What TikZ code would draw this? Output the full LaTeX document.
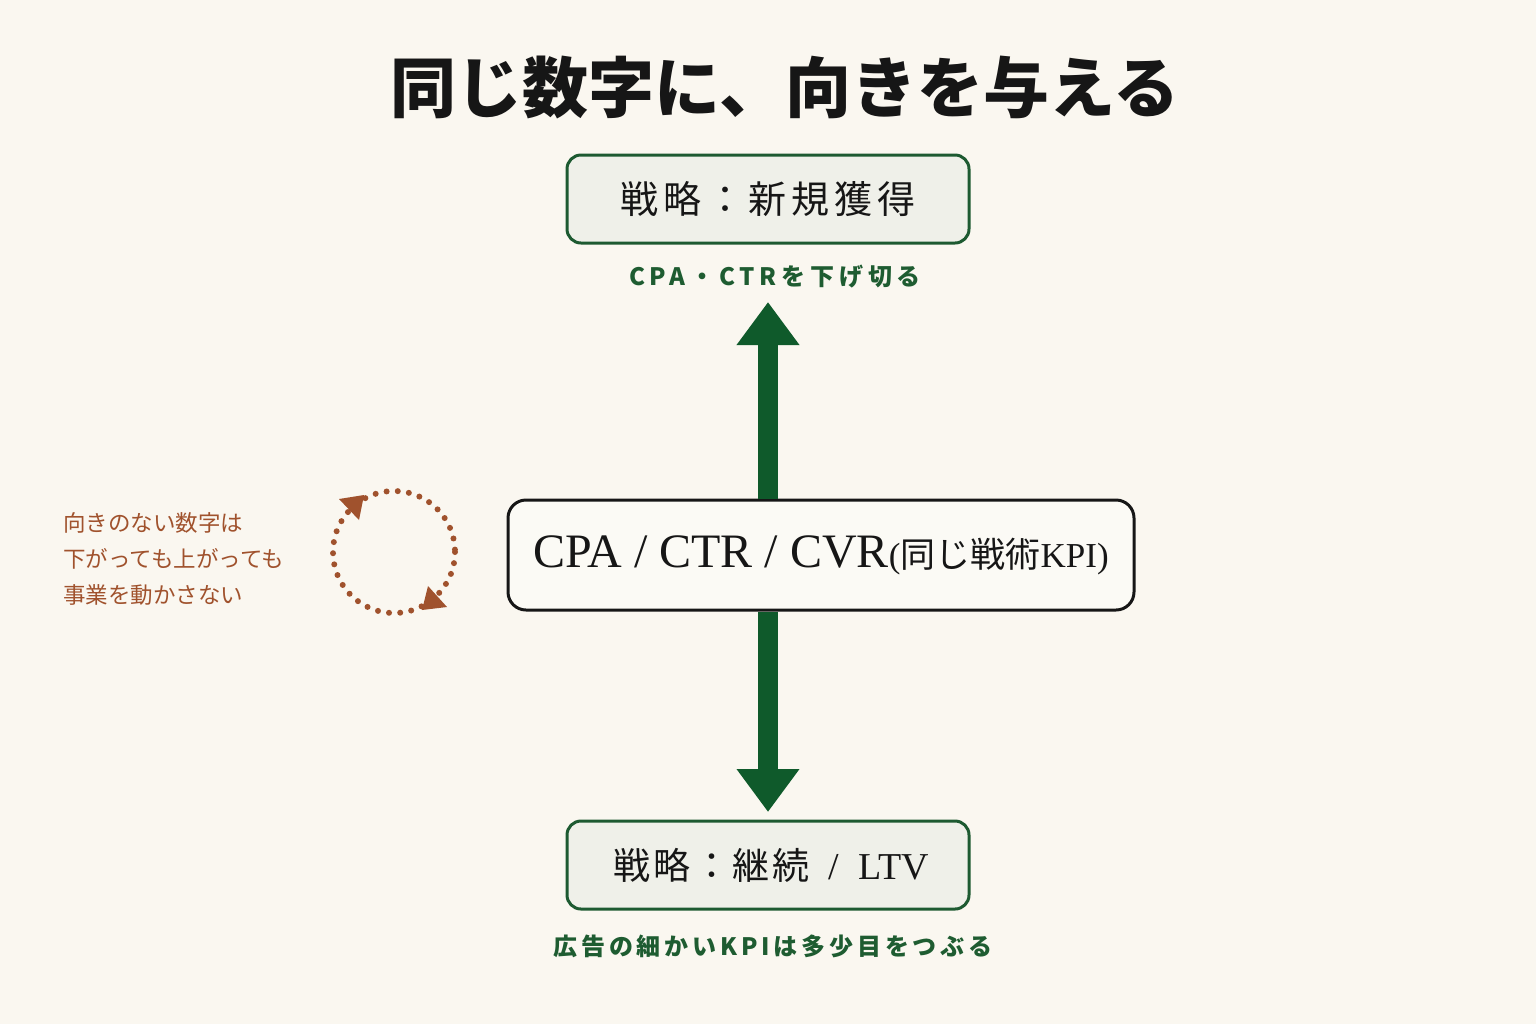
\documentclass[tikz,border=0pt]{standalone}
\usepackage{fontspec}
\setmainfont{Liberation Serif}
\newfontfamily\jp{Noto Sans CJK JP}
\usetikzlibrary{arrows.meta}
\definecolor{bg}{HTML}{FAF7F0}
\definecolor{gborder}{HTML}{1D5A31}
\definecolor{gfill}{HTML}{EFF0E9}
\definecolor{garrow}{HTML}{0F5A2B}
\definecolor{glabel}{HTML}{1E5C31}
\definecolor{brown}{HTML}{A0522D}
\definecolor{cfill}{HTML}{FBFAF5}
\definecolor{ink}{HTML}{161616}
\tikzset{
  gbox/.style={draw=gborder, line width=1.5pt, fill=gfill, rounded corners=7pt,
    minimum width=201pt, minimum height=44pt, inner sep=0pt, text=ink},
  cbox/.style={draw=ink, line width=1.5pt, fill=cfill, rounded corners=9pt,
    minimum width=313pt, minimum height=55pt, inner sep=0pt, text=ink},
  glab/.style={text=glabel, font=\jp\bfseries\fontsize{12pt}{12pt}\selectfont\addfontfeature{LetterSpace=20}, inner sep=0pt},
  bigarrow/.style={draw=garrow, line width=10pt, -{Triangle[width=30pt,length=21.5pt]}, garrow},
  loopdots/.style={draw=brown, line width=3pt, line cap=round, dash pattern=on 0pt off 5.6pt},
}
\begin{document}
\begin{tikzpicture}[x=0.5pt,y=-0.5pt]
\fill[bg] (0,0) rectangle (1536,1024);
\useasboundingbox (0,0) rectangle (1536,1024);

% title
\node[text=ink, inner sep=0pt, font=\jp\bfseries\fontsize{33pt}{33pt}\selectfont] (title) at (785,88) {同じ数字に、向きを与える};

% boxes
\node[gbox, font=\jp\fontsize{19pt}{19pt}\selectfont\addfontfeature{LetterSpace=13}] (top) at (768,199) {戦略：新規獲得};
\node[cbox] (mid) at (821,555) {{\fontsize{24pt}{24pt}\selectfont CPA / CTR / CVR}{\fontsize{17.5pt}{17.5pt}\selectfont(}{\jp\fontsize{17.5pt}{17.5pt}\selectfont 同じ戦術}{\fontsize{17.5pt}{17.5pt}\selectfont KPI)}};
\node[gbox] (bot) at (768,865) {\hspace{3pt}{\jp\fontsize{18.5pt}{18.5pt}\selectfont\addfontfeature{LetterSpace=8}戦略：継続}{\fontsize{19pt}{19pt}\selectfont\ \ /\ \ LTV}};

% labels
\node[glab] (toplab) at (775,277) {CPA・CTRを下げ切る};
\node[glab, font=\jp\bfseries\fontsize{12pt}{12pt}\selectfont\addfontfeature{LetterSpace=16}] (botlab) at (773,946) {広告の細かいKPIは多少目をつぶる};

% arrows
\coordinate (uptip) at (768,302);
\coordinate (downtip) at (768,812);
\draw[bigarrow] (uptip |- mid.north) -- (uptip);
\draw[bigarrow] (downtip |- mid.south) -- (downtip);

% side note
\node[text=brown, anchor=west, align=left, inner sep=0pt,
  font=\jp\fontsize{11.25pt}{18pt}\selectfont] (note) at (63,559)
  {向きのない数字は\\下がっても上がっても\\事業を動かさない};

% cycle icon
\coordinate (cyc) at (394,552);
\draw[loopdots] (cyc) circle[radius=61];
\fill[brown] (339,499) -- (364,495) -- (359,520) -- cycle;
\fill[brown] (428,586) -- (447,607) -- (422,610) -- cycle;
\end{tikzpicture}
\end{document}
